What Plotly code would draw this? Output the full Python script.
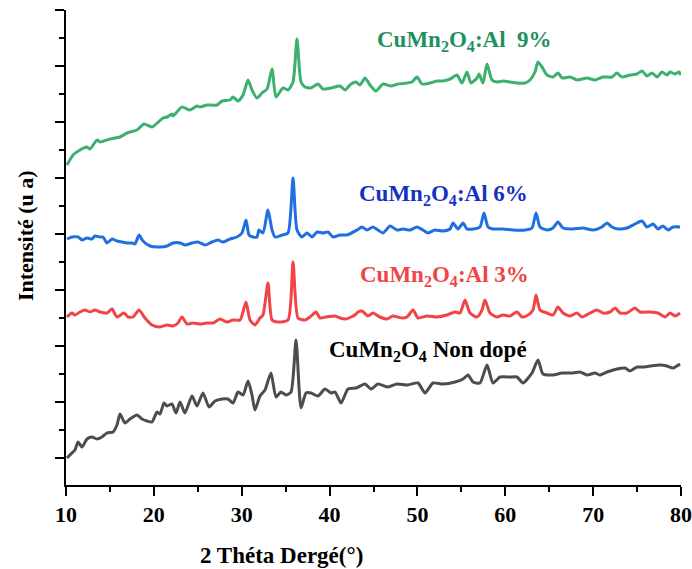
import plotly.graph_objects as go

# ---------------- data (2θ in degrees, intensity in arbitrary units, stacked) ----------------
theta_al9 = [10.11, 10.80, 11.59, 12.39, 12.73, 13.53, 13.87, 15.01, 16.15, 16.94, 18.08, 18.88, 19.79,
             21.04, 21.50, 22.06, 22.18, 23.20, 24.11, 24.91, 25.25, 26.05, 27.19, 27.76, 28.67, 29.01,
             29.58, 30.15, 30.72, 31.17, 31.74, 32.31, 32.88, 33.45, 33.90, 34.70, 35.27, 35.84, 36.29,
             36.75, 37.20, 37.89, 38.68, 39.25, 40.16, 41.19, 41.76, 42.44, 43.01, 43.46, 44.03, 44.60,
             45.28, 46.08, 46.99, 47.79, 48.81, 49.38, 49.95, 50.52, 51.43, 52.23, 52.91, 53.71, 54.50,
             55.07, 55.64, 56.10, 56.78, 57.01, 57.46, 57.92, 58.49, 59.06, 59.74, 60.54, 61.33, 62.24,
             62.81, 63.38, 63.72, 64.18, 64.75, 65.43, 66.00, 66.46, 67.37, 68.16, 69.30, 70.21, 71.12,
             72.15, 72.71, 73.28, 74.19, 74.99, 75.56, 76.13, 76.70, 77.27, 77.84, 78.41, 78.75, 79.32,
             79.77, 80.00]
int_al9 = [320, 330, 335, 338, 336, 345, 343, 346, 348, 352, 355, 361, 358,
           367, 368, 371, 369, 378, 375, 379, 378, 380, 380, 384, 385, 388,
           384, 390, 405, 395, 387, 392, 396, 416, 388, 397, 395, 403, 446,
           403, 398, 397, 401, 396, 397, 399, 395, 401, 403, 400, 407, 400,
           394, 401, 399, 401, 402, 403, 408, 401, 402, 404, 404, 406, 410,
           402, 413, 402, 407, 411, 402, 421, 405, 403, 404, 403, 402, 402,
           405, 413, 423, 418, 410, 408, 412, 407, 408, 405, 407, 405, 408,
           408, 412, 408, 410, 411, 414, 409, 412, 408, 413, 410, 413, 411,
           413, 410]

theta_al6 = [10.11, 10.68, 11.37, 11.82, 12.39, 12.96, 13.30, 13.87, 14.21, 14.67, 15.24, 15.80, 16.37,
             16.94, 17.51, 17.85, 18.31, 18.76, 19.56, 20.70, 21.50, 22.18, 22.98, 23.54, 24.34, 25.02,
             25.82, 26.62, 27.30, 27.87, 28.67, 29.46, 30.03, 30.49, 30.83, 31.28, 31.74, 31.97, 32.42,
             32.99, 33.45, 33.79, 34.59, 35.27, 35.84, 36.29, 36.86, 37.43, 38.00, 38.57, 39.25, 39.82,
             40.39, 41.19, 41.98, 43.12, 43.69, 44.26, 44.94, 45.51, 46.08, 46.88, 47.67, 48.36, 49.15,
             49.95, 50.63, 51.20, 52.00, 52.91, 53.71, 54.05, 54.62, 55.19, 55.64, 56.33, 57.12, 57.58,
             58.03, 58.60, 59.74, 60.88, 62.24, 63.04, 63.50, 63.95, 64.75, 65.43, 66.00, 66.57, 67.71,
             68.85, 69.98, 71.01, 71.58, 72.15, 72.83, 73.85, 74.76, 75.56, 76.13, 76.81, 77.38, 77.95,
             78.52, 79.09, 79.89]
int_al6 = [246, 248, 248, 245, 247, 246, 249, 248, 248, 242, 246, 244, 243,
           242, 242, 241, 250, 244, 239, 238, 239, 242, 242, 240, 242, 243,
           240, 243, 245, 243, 246, 248, 252, 265, 250, 248, 248, 255, 252,
           275, 255, 248, 250, 252, 307, 255, 248, 252, 248, 253, 252, 253,
           248, 250, 250, 255, 258, 255, 258, 255, 252, 259, 255, 256, 255,
           258, 255, 252, 255, 254, 256, 262, 256, 262, 256, 256, 258, 272,
           258, 256, 256, 255, 255, 257, 272, 258, 255, 257, 263, 257, 256,
           257, 255, 258, 262, 258, 256, 257, 261, 264, 258, 261, 256, 259,
           255, 258, 258]

theta_al3 = [10.11, 10.68, 11.02, 11.59, 12.16, 12.73, 13.30, 13.87, 14.67, 15.24, 15.80, 16.60, 17.06,
             17.63, 18.31, 18.99, 19.79, 20.70, 21.50, 22.18, 22.75, 23.20, 23.77, 24.46, 25.25, 26.05,
             26.73, 27.53, 28.33, 29.01, 29.81, 30.49, 30.94, 31.51, 32.08, 32.42, 32.99, 33.45, 34.13,
             35.27, 35.84, 36.41, 37.20, 37.77, 38.46, 38.91, 39.59, 40.62, 41.19, 41.87, 42.89, 43.24,
             43.69, 44.37, 44.94, 45.74, 46.54, 47.22, 48.24, 48.81, 49.50, 50.07, 51.09, 52.23, 53.37,
             54.28, 54.85, 55.41, 55.98, 56.78, 57.35, 57.69, 58.26, 59.06, 59.74, 60.54, 61.33, 61.90,
             62.59, 63.15, 63.50, 63.95, 64.75, 65.43, 66.00, 66.57, 67.37, 68.16, 68.73, 69.64, 70.44,
             71.12, 71.92, 72.49, 73.06, 73.85, 74.76, 75.33, 76.47, 77.38, 78.18, 78.75, 79.32, 79.89]
int_al3 = [168, 172, 170, 173, 175, 173, 175, 173, 172, 176, 168, 172, 168,
           168, 175, 167, 160, 158, 160, 159, 162, 168, 161, 162, 161, 162,
           162, 166, 163, 165, 165, 183, 165, 160, 167, 170, 202, 165, 163,
           165, 223, 167, 165, 168, 173, 167, 168, 169, 167, 166, 170, 173,
           174, 169, 172, 168, 166, 169, 167, 168, 175, 167, 169, 168, 170,
           173, 172, 185, 172, 168, 175, 185, 172, 168, 170, 169, 173, 168,
           170, 175, 190, 175, 172, 170, 178, 172, 169, 172, 168, 172, 175,
           172, 173, 177, 172, 172, 177, 173, 173, 172, 168, 172, 169, 172]

theta_pure = [10.11, 10.68, 11.02, 11.37, 11.82, 12.39, 12.96, 13.53, 14.10, 14.67, 15.35, 15.80, 16.15,
              16.72, 17.28, 18.08, 18.65, 19.22, 19.79, 20.36, 20.70, 21.15, 21.50, 22.06, 22.52, 22.98,
              23.54, 24.34, 24.91, 25.59, 26.28, 26.96, 27.76, 28.44, 29.01, 29.58, 30.15, 30.72, 31.17,
              31.51, 32.08, 32.65, 33.33, 33.90, 34.47, 35.04, 35.61, 36.18, 36.75, 37.32, 37.89, 38.68,
              39.48, 40.16, 40.62, 41.30, 42.10, 43.01, 44.03, 44.72, 45.51, 46.65, 47.67, 48.81, 50.07,
              50.86, 51.77, 52.91, 54.28, 55.19, 55.76, 56.33, 57.12, 57.92, 58.60, 59.40, 60.54, 61.33,
              62.02, 63.04, 63.72, 64.29, 65.43, 66.46, 67.71, 68.50, 69.30, 70.21, 70.78, 71.58, 72.71,
              73.63, 74.19, 74.99, 75.67, 76.47, 77.61, 78.41, 79.09, 79.89]
int_pure = [27, 32, 35, 43, 38, 46, 48, 46, 48, 52, 53, 60, 71,
            62, 66, 70, 66, 64, 63, 73, 71, 82, 79, 81, 72, 83,
            72, 89, 79, 92, 78, 84, 86, 86, 82, 93, 90, 104, 90,
            75, 89, 95, 112, 88, 93, 90, 93, 145, 77, 92, 92, 89,
            96, 92, 93, 82, 96, 97, 101, 96, 101, 98, 101, 100, 102,
            92, 102, 101, 103, 106, 110, 103, 102, 120, 102, 108, 108, 108,
            102, 112, 125, 111, 110, 112, 112, 113, 110, 112, 110, 113, 116,
            117, 114, 118, 118, 119, 120, 119, 117, 121]

x_ticks = [10, 20, 30, 40, 50, 60, 70, 80]
x_tick_labels = ["10", "20", "30", "40", "50", "60", "70", "80"]
labels = ["CuMn<sub>2</sub>O<sub>4</sub>:Al&nbsp;&nbsp;9%",
          "CuMn<sub>2</sub>O<sub>4</sub>:Al 6%",
          "CuMn<sub>2</sub>O<sub>4</sub>:Al 3%",
          "CuMn<sub>2</sub>O<sub>4</sub> Non dopé"]

# ---------------- figure ----------------
FONT = "Liberation Serif, Times New Roman, serif"
line_cols = ["#3cb06c", "#1f6fe0", "#f04446", "#4d4d4d"]
text_cols = ["#1e9160", "#1431c0", "#f04446", "#000000"]

fig = go.Figure()
for xs, ys, c in [(theta_al9, int_al9, line_cols[0]),
                  (theta_al6, int_al6, line_cols[1]),
                  (theta_al3, int_al3, line_cols[2]),
                  (theta_pure, int_pure, line_cols[3])]:
    fig.add_trace(go.Scatter(x=xs, y=ys, mode="lines",
                             line=dict(color=c, width=3, shape="spline", smoothing=0.6),
                             showlegend=False))

label_pos = [(0.502, 0.935), (0.473, 0.610), (0.475, 0.440), (0.424, 0.283)]
for txt, (px, py), c in zip(labels, label_pos, text_cols):
    fig.add_annotation(text="<b>" + txt + "</b>", xref="paper", yref="paper",
                       x=px, y=py, xanchor="left", yanchor="middle", showarrow=False,
                       font=dict(family=FONT, size=23, color=c))

# y-axis title as rotated annotation
fig.add_annotation(text="<b>Intensité (u a)</b>", xref="paper", yref="paper",
                   x=0, xshift=-41, y=0.524, textangle=-90, showarrow=False,
                   xanchor="center", yanchor="middle",
                   font=dict(family=FONT, size=22, color="black"))
# x-axis title
fig.add_annotation(text="<b>2 Théta Dergé(°)</b>", xref="paper", yref="paper",
                   x=0.350, y=0, yshift=-70, showarrow=False,
                   xanchor="center", yanchor="middle",
                   font=dict(family=FONT, size=23, color="black"))

fig.update_xaxes(range=[10, 80], tickvals=x_ticks,
                 ticktext=["<b>" + t + "</b>" for t in x_tick_labels],
                 ticks="outside", ticklen=9, tickwidth=1.5,
                 tickcolor="black", showline=True, linecolor="black", linewidth=1.8,
                 showgrid=False, zeroline=False, automargin=False,
                 tickfont=dict(family=FONT, size=22, color="black"),
                 minor=dict(dtick=5, tick0=5, ticks="outside", ticklen=5, tickwidth=1.5,
                            tickcolor="black", showgrid=False))
fig.update_yaxes(range=[0, 475], tick0=27, dtick=56, ticks="outside", ticklen=9, tickwidth=1.5,
                 tickcolor="black", showline=True, linecolor="black", linewidth=1.8,
                 showgrid=False, zeroline=False, showticklabels=False, automargin=False,
                 minor=dict(dtick=28, tick0=27, ticks="outside", ticklen=5, tickwidth=1.5,
                            tickcolor="black", showgrid=False))

fig.update_layout(width=692, height=569, margin=dict(l=66, r=11, t=10, b=84),
                  paper_bgcolor="white", plot_bgcolor="white",
                  font=dict(family=FONT))

fig.write_html("out.html")
